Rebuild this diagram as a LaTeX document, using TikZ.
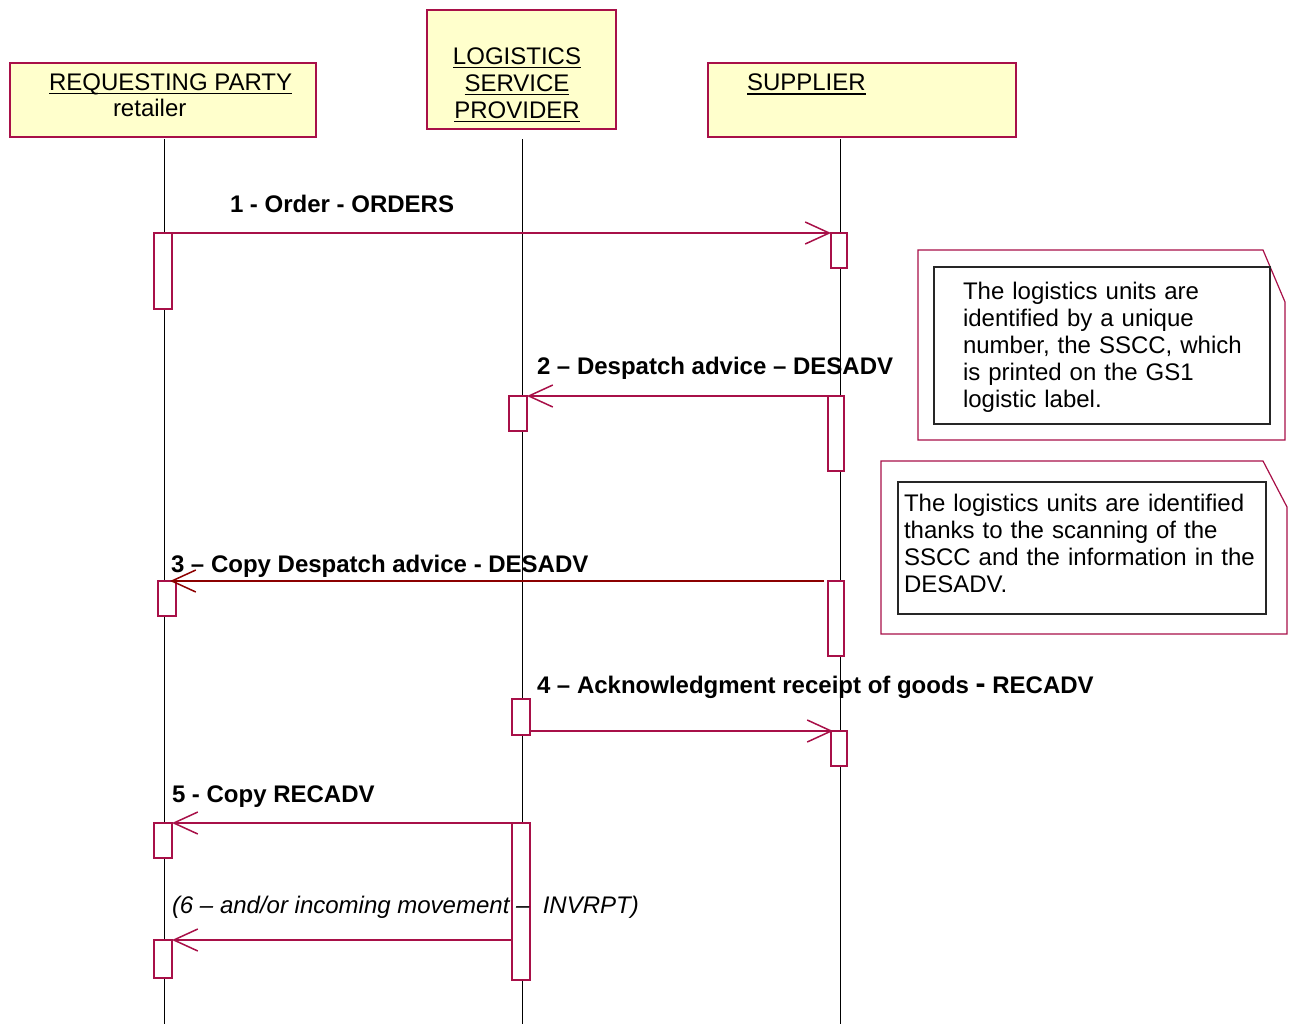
\documentclass[tikz,border=0pt]{standalone}
\usepackage{fontspec}
\setmainfont{Liberation Sans}
\usetikzlibrary{arrows.meta}
\definecolor{rose}{RGB}{168,16,72}
\definecolor{objfill}{RGB}{255,255,204}
\definecolor{darkmsg}{RGB}{140,0,0}
% underlined object name
\newcommand{\objname}[1]{\leavevmode\setbox0=\hbox{#1}\rlap{\rule[-4pt]{\wd0}{1.5pt}}\box0}

\begin{document}
\begin{tikzpicture}[x=1pt,y=-1pt,
  every node/.style={inner sep=0pt, outer sep=0pt, font=\fontsize{24}{27}\selectfont},
  obj/.style={draw=rose, fill=objfill, line width=1.5pt, anchor=north west},
  act/.style={draw=rose, fill=white, line width=1.2pt, anchor=north west, minimum width=18pt},
  life/.style={line width=1pt, black},
  msg/.style={draw=rose, line width=1.2pt, -{Straight Barb[length=24pt,width=22pt,line width=1.5pt]}},
  msgdark/.style={draw=darkmsg, line width=2pt, -{Straight Barb[length=24pt,width=22pt,line width=1.5pt]}},
  lbl/.style={anchor=base west, font=\fontsize{24}{27}\selectfont\bfseries},
  hdr/.style={anchor=base west},
  noteshape/.style={draw=rose, line width=1.2pt},
  noteinner/.style={draw=black!85, line width=1.5pt, anchor=north west},
  notetext/.style={anchor=base west, align=left, font=\fontsize{24}{27}\selectfont}
]
\useasboundingbox (0,0) rectangle (1290,1026);

% object heads
\node[obj, minimum width=306pt, minimum height=74pt] (req) at (10,63) {};
\node[obj, minimum width=189pt, minimum height=119pt] (lsp) at (427,10) {};
\node[obj, minimum width=308pt, minimum height=74pt] (sup) at (708,63) {};
\node[hdr] (reqname) at (49,90) {\objname{REQUESTING PARTY}};
\node[hdr] (reqrole) at (113,116.5) {retailer};
\node[anchor=base, text width=185pt, align=center] (lspname) at (517,64)
  {\objname{LOGISTICS}\\\objname{SERVICE}\\\objname{PROVIDER}};
\node[hdr] (supname) at (747,90.5) {\objname{SUPPLIER}};

% lifelines
\coordinate (reqtop) at (164,139);  \coordinate (reqbot) at (164,1024);
\coordinate (lsptop) at (522,139);  \coordinate (lspbot) at (522,1024);
\coordinate (suptop) at (840,139);  \coordinate (supbot) at (840,1024);
\draw[life] (reqtop) -- (reqbot);
\draw[life] (lsptop) -- (lspbot);
\draw[life] (suptop) -- (supbot);

% activations
\node[act, minimum height=76pt] (a1) at (154,233) {};
\node[act, minimum width=16pt, minimum height=35pt] (s1) at (831,233) {};
\node[act, minimum height=35pt] (l2) at (509,396) {};
\node[act, minimum width=16pt, minimum height=75pt] (s2) at (828,396) {};
\node[act, minimum height=35pt] (r3) at (158,581) {};
\node[act, minimum width=16pt, minimum height=75pt] (s3) at (828,581) {};
\node[act, minimum height=36pt] (l4) at (512,699) {};
\node[act, minimum width=16pt, minimum height=35pt] (s4) at (831,731) {};
\node[act, minimum height=35pt] (r5) at (154,823) {};
\node[act, minimum height=157pt] (l5) at (512,823) {};
\node[act, minimum height=38pt] (r6) at (154,940) {};

% messages
\draw[msg] (a1.north east) -- (s1.north west);
\draw[msg] (s2.north west) -- (l2.north east);
\draw[msgdark, shorten <=4pt, shorten >=-6pt] (s3.north west) -- (r3.north east);
\draw[msg, shorten >=-2pt] (l4.east |- s4.north west) -- (s4.north west);
\draw[msg] (l5.north west) -- (r5.north east);
\draw[msg] (l5.west |- r6.north) -- (r6.north east);

% message labels
\node[lbl] (m1) at (230,212) {1 - Order - ORDERS};
\node[lbl] (m2) at (537,374) {2 – Despatch advice – DESADV};
\node[lbl] (m3) at (171,572) {3 – Copy Despatch advice - DESADV};
\node[lbl] (m4) at (537,693) {4 – Acknowledgment receipt of goods {\fontsize{30}{30}\selectfont -} RECADV};
\node[lbl] (m5) at (172,802) {5 - Copy RECADV};
\node[anchor=base west, font=\fontsize{24}{27}\selectfont\itshape] (m6) at (172,913)
  {(6 – and/or incoming movement –\ \ INVRPT)};

% notes
\draw[noteshape] (918,250) -- (1263,250) -- (1285,302) -- (1285,440) -- (918,440) -- cycle;
\node[noteinner, minimum width=336pt, minimum height=157pt] (n1box) at (934,267) {};
\node[notetext, text width=300pt] (n1text) at (963,299)
  {The logistics units are\\identified by a unique\\number, the SSCC, which\\is printed on the GS1\\logistic label.};

\draw[noteshape] (881,461) -- (1263,461) -- (1287,507) -- (1287,634) -- (881,634) -- cycle;
\node[noteinner, minimum width=368pt, minimum height=132pt] (n2box) at (898,482) {};
\node[notetext, text width=360pt] (n2text) at (904,511.5)
  {The logistics units are identified\\thanks to the scanning of the\\SSCC and the information in the\\DESADV.};
\end{tikzpicture}
\end{document}
